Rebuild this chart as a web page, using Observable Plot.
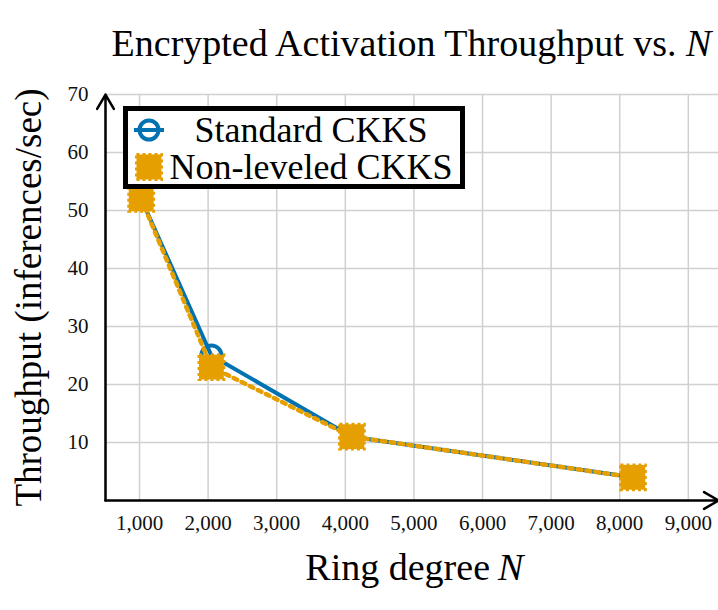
<!DOCTYPE html>
<html>
<head>
<meta charset="utf-8">
<script src="https://cdn.jsdelivr.net/npm/d3@7"></script>
<script src="https://cdn.jsdelivr.net/npm/@observablehq/plot@0.6"></script>
<style>
  body { margin: 0; background: #fff; }
  #wrap { position: relative; width: 718px; height: 610px; font-family: 'Liberation Serif', serif; color: #000; }
  #title { height: 80px; box-sizing: border-box; padding-top: 24px; padding-left: 105px; text-align: center; font-size: 38px; line-height: 1; white-space: nowrap; }
  #legend { position: absolute; left: 123px; top: 106px; width: 342px; height: 83px; border: 5px solid #000; box-sizing: border-box; background: #fff; font-size: 36px; }
  .row { position: absolute; left: 0; width: 332px; height: 36px; line-height: 36px; }
  .row svg { position: absolute; left: 6px; top: 3px; }
  .row span { position: absolute; left: 40px; right: 6px; text-align: center; white-space: nowrap; }
</style>
</head>
<body>
<div id="wrap">
  <div id="title">Encrypted Activation Throughput vs. <i>N</i></div>
  <div id="chart"></div>
  <div id="legend">
    <div class="row" style="top:1px">
      <svg width="30" height="30"><line x1="0" y1="15" x2="30" y2="15" stroke="#0072B2" stroke-width="4"/><circle cx="15" cy="15" r="9.5" fill="none" stroke="#0072B2" stroke-width="4"/></svg>
      <span>Standard CKKS</span>
    </div>
    <div class="row" style="top:38px">
      <svg width="30" height="30"><rect x="2.5" y="2.5" width="25" height="25" fill="#E69F00" stroke="#E69F00" stroke-width="3" stroke-dasharray="3,3"/></svg>
      <span>Non-leveled CKKS</span>
    </div>
  </div>
</div>
<script>
const ringDegree = [1024, 2048, 4096, 8192];
const standardCKKS = [52, 25, 11, 4];
const nonLeveledCKKS = [52, 23, 11, 4];
const xTicks = [1000, 2000, 3000, 4000, 5000, 6000, 7000, 8000, 9000];
const yTicks = [10, 20, 30, 40, 50, 60, 70];
const xDomain = [504, 9440];
const yDomain = [0, 70];

const std = ringDegree.map((n, i) => ({n, v: standardCKKS[i]}));
const nl = ringDegree.map((n, i) => ({n, v: nonLeveledCKKS[i]}));

const blue = "#0072B2";
const orange = "#E69F00";
const fmt = d3.format(",");

const chart = Plot.plot({
  width: 718,
  height: 530,
  marginTop: 14,
  marginBottom: 110,
  marginLeft: 105,
  marginRight: 0,
  style: {fontFamily: "'Liberation Serif', serif", background: "#fff", overflow: "visible", color: "#000"},
  x: {domain: xDomain},
  y: {domain: yDomain},
  marks: [
    Plot.gridX(xTicks, {stroke: "#d0d0d0", strokeOpacity: 1, strokeWidth: 1.5}),
    Plot.gridY(yTicks, {stroke: "#d0d0d0", strokeOpacity: 1, strokeWidth: 1.5}),
    Plot.axisX(xTicks, {tickSize: 0, tickPadding: 15, tickFormat: fmt, fontSize: 21, label: null, fill: "#111"}),
    Plot.axisY(yTicks, {tickSize: 0, tickPadding: 17, fontSize: 21, label: null, fill: "#111"}),
    Plot.arrow([0], {x1: () => xDomain[0], y1: () => yDomain[0], x2: () => xDomain[1], y2: () => yDomain[0], stroke: "#000", strokeWidth: 2.5, headLength: 10, bend: 0}),
    Plot.arrow([0], {x1: () => xDomain[0], y1: () => yDomain[0], x2: () => xDomain[0], y2: () => yDomain[1], stroke: "#000", strokeWidth: 2.5, headLength: 10, bend: 0}),
    Plot.line(std, {x: "n", y: "v", stroke: blue, strokeWidth: 4}),
    Plot.dot(std, {x: "n", y: "v", r: 10, stroke: blue, strokeWidth: 4, fill: "none"}),
    Plot.line(nl, {x: "n", y: "v", stroke: orange, strokeWidth: 4.5, strokeDasharray: "4,5"}),
    Plot.dot(nl, {x: "n", y: "v", symbol: "square", r: 14, fill: orange, stroke: orange, strokeWidth: 3, strokeDasharray: "3,3"}),
    Plot.text(["Ring degree"], {frameAnchor: "bottom", textAnchor: "end", lineAnchor: "middle", dx: 78, dy: 67, fontSize: 38, fill: "#000"}),
    Plot.text(["N"], {frameAnchor: "bottom", textAnchor: "start", lineAnchor: "middle", dx: 86, dy: 67, fontSize: 38, fontStyle: "italic", fill: "#000"}),
    Plot.text(["Throughput (inferences/sec)"], {frameAnchor: "left", textAnchor: "middle", lineAnchor: "middle", rotate: -90, dx: -76, fontSize: 37, fill: "#000"})
  ]
});
document.getElementById("chart").appendChild(chart);
</script>
</body>
</html>
